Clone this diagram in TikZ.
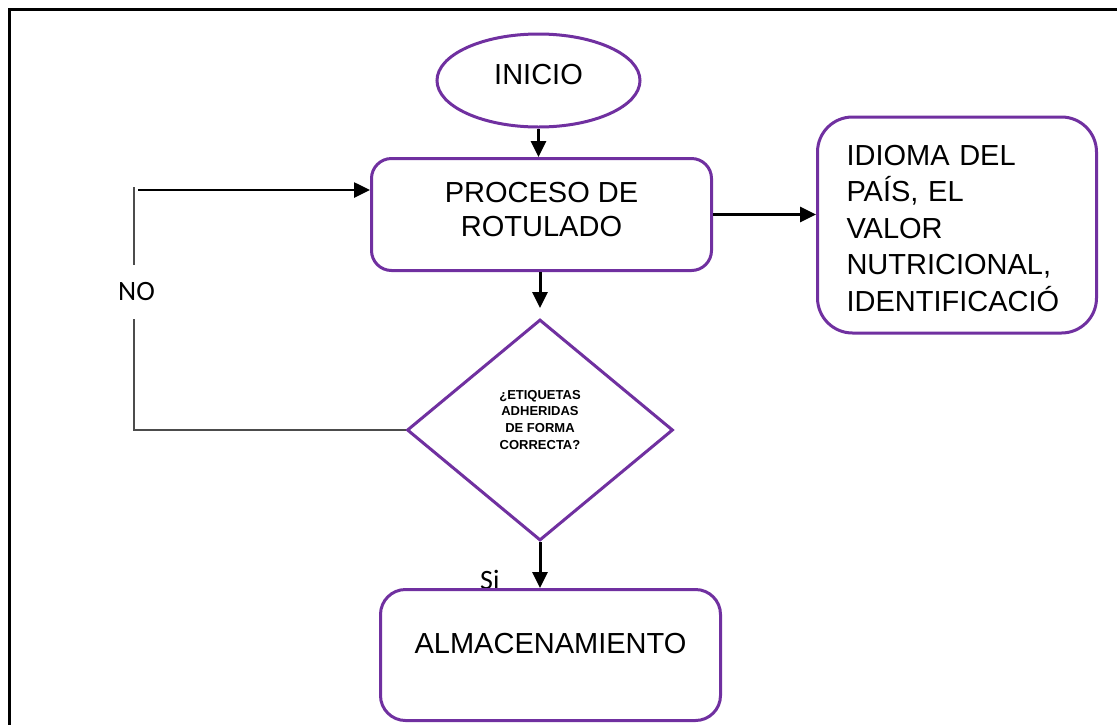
\documentclass[tikz,border=0pt]{standalone}
\usepackage{fontspec}
\setmainfont{Liberation Sans}
\newfontfamily\calibfont{Carlito}
\usetikzlibrary{shapes.geometric,arrows.meta}
\definecolor{morado}{HTML}{7030A0}
\begin{document}
\begin{tikzpicture}[x=1pt,y=-1pt,
  shapeline/.style={draw=morado, line width=3pt, inner sep=0pt},
  boxshape/.style={shapeline, rectangle},
  bigtext/.style={font=\fontsize{29}{34}\selectfont},
  flecha/.style={draw=black, line width=3pt, -{Triangle[length=16pt,width=15pt]}},
  loopline/.style={draw=black!70, line width=1.4pt},
  labeltext/.style={font=\calibfont\fontsize{28}{30}\selectfont, inner sep=0pt},
]
\useasboundingbox (0,0) rectangle (1117,724);
\fill[white] (0,0) rectangle (1117,724);
\begin{scope}
  \clip (0,0) rectangle (1117,724);
  \draw[line width=3pt] (9.5,9) rectangle (1140,745);
\end{scope}

% nodes
\node[shapeline, ellipse, minimum width=203pt, minimum height=93pt, bigtext, text depth=13pt] (inicio) at (538.5,80.5) {INICIO};

\node[boxshape, rounded corners=20pt, minimum width=340pt, minimum height=112pt, align=center, bigtext, text depth=10pt] (proceso) at (541.5,214.5) {PROCESO DE\\ROTULADO};

\node[boxshape, rounded corners=35pt, minimum width=279pt, minimum height=216pt, text width=221pt, align=left, font=\fontsize{29}{36.5}\selectfont, text height=26pt, text depth=146pt] (idioma) at (957,225) {IDIOMA DEL\\PAÍS, EL\\VALOR\\NUTRICIONAL,\\IDENTIFICACIÓ};

\node[shapeline, diamond, minimum width=266pt, minimum height=221pt, align=center, font=\bfseries\fontsize{13}{16.7}\selectfont, text depth=20.8pt] (rombo) at (540,430) {¿ETIQUETAS\\ADHERIDAS\\DE FORMA\\CORRECTA?};

\node[labeltext, anchor=base west] (si) at (480,589) {Si};

\node[boxshape, rounded corners=25pt, minimum width=340pt, minimum height=131pt, bigtext, text depth=24pt] (almacen) at (550.5,655) {ALMACENAMIENTO};

% connectors
\draw[flecha] (inicio.south) -- (inicio.south |- proceso.north);
\draw[flecha] (proceso.east) -- (proceso.east -| idioma.west);
\draw[flecha] (proceso.south -| rombo.north) -- ([yshift=10pt]rombo.north);
\draw[flecha] (rombo.south) -- (rombo.south |- almacen.north);

\coordinate (looptop) at (134,187);
\coordinate (loopstart) at (138,190);
\draw[loopline] (rombo.west) -| (looptop);
\node[labeltext, fill=white, minimum height=54pt, minimum width=40pt] (no) at (136.5,292) {NO};
\draw[flecha, line width=2.6pt] (loopstart) -- (loopstart -| proceso.west);
\end{tikzpicture}
\end{document}
